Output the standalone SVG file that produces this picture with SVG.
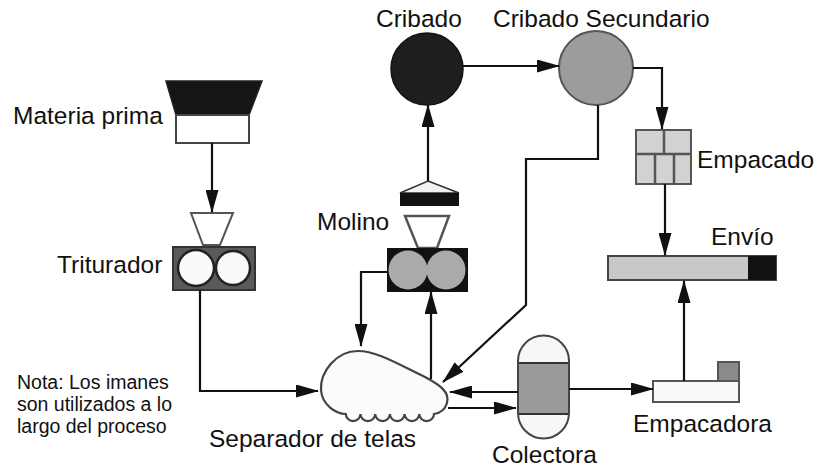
<svg xmlns="http://www.w3.org/2000/svg" width="816" height="467" viewBox="0 0 816 467">
<style>
text{font-family:"Liberation Sans",Arial,sans-serif;fill:#111;}
.lbl{font-size:24.5px;}
.note{font-size:19.5px;}
.ln{fill:none;stroke:#111;stroke-width:2.2;}
.out{stroke:#444;stroke-width:2;}
</style>
<defs>
<marker id="ah" markerUnits="userSpaceOnUse" markerWidth="23" markerHeight="13" viewBox="0 0 23 13" refX="22" refY="6.5" orient="auto">
<path d="M0,0 L23,6.5 L0,13 z" fill="#111"/>
</marker>
</defs>
<rect width="816" height="467" fill="#fff"/>

<g id="materia-prima">
<polygon points="166,81 262,81 249,115 176,115" fill="#151515" stroke="#222" stroke-width="1.5"/>
<rect x="176" y="115" width="73" height="28" fill="#fff" class="out"/>
<text class="lbl" x="13" y="124">Materia prima</text>
</g>

<g id="triturador">
<polygon points="191,213 233,213 220,245 203,245" fill="#fff" stroke="#555" stroke-width="2"/>
<rect x="173" y="247" width="82" height="43" fill="#5a5a5a" stroke="#333" stroke-width="2"/>
<circle cx="196" cy="268" r="18" fill="#fafafa" stroke="#222" stroke-width="2.5"/>
<circle cx="233" cy="268" r="17" fill="#fafafa" stroke="#222" stroke-width="2.5"/>
<text class="lbl" x="57" y="273">Triturador</text>
</g>

<g id="molino">
<polygon points="428,181 459,193 400,193" fill="#f2f2f2" stroke="#333" stroke-width="1.5"/>
<rect x="400" y="193" width="59" height="13" fill="#111"/>
<polygon points="405,216 449,216 437,248 418,248" fill="#fff" stroke="#555" stroke-width="2.5"/>
<rect x="387" y="248" width="81" height="44" fill="#111"/>
<circle cx="408" cy="270" r="19.5" fill="#aaa"/>
<circle cx="446" cy="270" r="19.5" fill="#aaa"/>
<text class="lbl" x="317" y="230">Molino</text>
</g>

<g id="cribado">
<circle cx="427" cy="69" r="36" fill="#1e1e1e" stroke="#111" stroke-width="1.5"/>
<text class="lbl" x="376" y="27">Cribado</text>
</g>

<g id="cribado-secundario">
<circle cx="596" cy="68" r="37" fill="#9c9c9c" stroke="#555" stroke-width="2"/>
<text class="lbl" x="493" y="27">Cribado Secundario</text>
</g>

<g id="empacado">
<rect x="636" y="130" width="55" height="54" fill="#d2d2d2" stroke="#555" stroke-width="2"/>
<path d="M636,154 H691 M664,130 V154 M655,154 V184 M674,154 V184" stroke="#555" stroke-width="2.5" fill="none"/>
<text class="lbl" x="697" y="168">Empacado</text>
</g>

<g id="envio">
<rect x="608" y="256" width="168" height="24" fill="#c8c8c8" stroke="#444" stroke-width="2"/>
<rect x="748" y="256" width="28" height="24" fill="#111"/>
<text class="lbl" x="711" y="245">Envío</text>
</g>

<g id="separador">
<path d="M358,351 C376,351 396,363 425,377 C440,385 450,392 447,403 C445,410 440,413 434,414 a7.3,7 0 0 1 -14.7,0 a7.3,7 0 0 1 -14.7,0 a7.3,7 0 0 1 -14.7,0 a7.3,7 0 0 1 -14.7,0 a7.3,7 0 0 1 -14.7,0 a7.3,7 0 0 1 -14.7,0 C336,414 322,405 321,390 C320,372 336,351 358,351 Z" fill="#fbfbfb" stroke="#444" stroke-width="2.2"/>
<text class="lbl" x="209" y="447">Separador de telas</text>
</g>

<g id="colectora">
<path d="M518,361 A25.5,25.5 0 0 1 569,361 L569,413 A25.5,25.5 0 0 1 518,413 Z" fill="#f7f7f7"/>
<rect x="518" y="363" width="51" height="51" fill="#9a9a9a"/>
<path d="M518,363 H569 M518,414 H569" stroke="#333" stroke-width="2"/>
<path d="M518,361 A25.5,25.5 0 0 1 569,361 L569,413 A25.5,25.5 0 0 1 518,413 Z" fill="none" stroke="#444" stroke-width="2"/>
<text class="lbl" x="492" y="463">Colectora</text>
</g>

<g id="empacadora">
<rect x="718" y="362" width="21" height="19" fill="#8a8a8a" stroke="#555" stroke-width="2"/>
<rect x="653" y="381" width="86" height="21" fill="#fafafa" stroke="#555" stroke-width="2"/>
<text class="lbl" x="633" y="432">Empacadora</text>
</g>

<g id="nota">
<text class="note" x="17" y="389">Nota: Los imanes</text>
<text class="note" x="17" y="411">son utilizados a lo</text>
<text class="note" x="17" y="433">largo del proceso</text>
</g>

<g id="connectors">
<path class="ln" d="M212,143 V212" marker-end="url(#ah)"/>
<path class="ln" d="M200,290 V391 H318" marker-end="url(#ah)"/>
<path class="ln" d="M387,272 H361 V346" marker-end="url(#ah)"/>
<path class="ln" d="M431,379 V292" marker-end="url(#ah)"/>
<path class="ln" d="M428,181 V105" marker-end="url(#ah)"/>
<path class="ln" d="M463,66 H559" marker-end="url(#ah)"/>
<path class="ln" d="M633,68 H662 V129" marker-end="url(#ah)"/>
<path class="ln" d="M665,184 V255" marker-end="url(#ah)"/>
<path class="ln" d="M598,105 V159 H526 V305 L443,382" marker-end="url(#ah)"/>
<path class="ln" d="M518,392 H450" marker-end="url(#ah)"/>
<path class="ln" d="M448,408 H516" marker-end="url(#ah)"/>
<path class="ln" d="M569,389 H653" marker-end="url(#ah)"/>
<path class="ln" d="M684,381 V281" marker-end="url(#ah)"/>
</g>
</svg>
